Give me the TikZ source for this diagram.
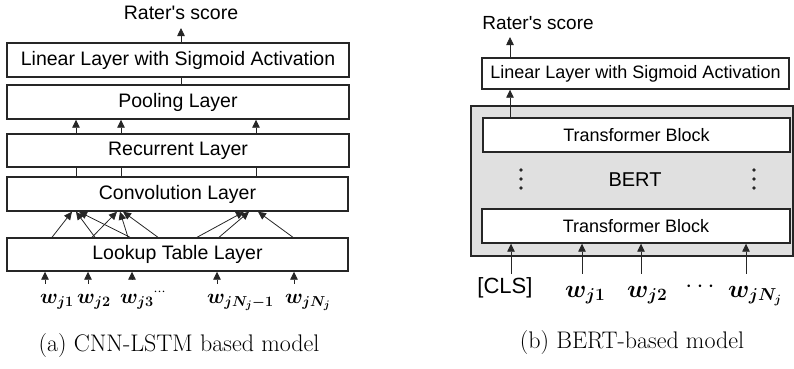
\documentclass[tikz,border=0pt]{standalone}
\usepackage{fontspec}
\usepackage{bm}
\usetikzlibrary{arrows.meta}
\newfontfamily\arialf{Liberation Sans}
\DeclareMathSizes{21}{21}{14}{11}
\DeclareMathSizes{24}{24}{16}{12}
\tikzset{
  box/.style={draw=black!85, line width=1.4pt, fill=white, rectangle, inner sep=0pt, font=\arialf\fontsize{19.5}{22}\selectfont},
  rbox/.style={box, font=\arialf\fontsize{18}{21}\selectfont},
  arr/.style={line width=0.8pt, draw=black!85, -{Triangle[length=8pt,width=7.5pt]}},
  ln/.style={line width=0.8pt, draw=black!85},
  sans/.style={inner sep=0pt, font=\arialf\fontsize{19.5}{22}\selectfont},
  wlab/.style={inner sep=0pt, anchor=base west, font=\fontsize{21}{24}\selectfont},
  wlabr/.style={inner sep=0pt, anchor=base west, font=\fontsize{24}{26}\selectfont},
  captext/.style={inner sep=0pt, font=\fontsize{24}{28}\selectfont},
}
\begin{document}
\begin{tikzpicture}[x=1pt,y=-1pt]
\useasboundingbox (0,0) rectangle (794,368);
% ---------- (a) CNN-LSTM ----------
\node[sans] (scoreA) at (181,13) {Rater's score};
\node[box, minimum width=342pt, minimum height=34pt] (lin) at (178,60) {Linear Layer with Sigmoid Activation};
\node[box, minimum width=342pt, minimum height=34pt] (pool) at (178,102) {Pooling Layer};
\node[box, minimum width=342pt, minimum height=33pt] (rec) at (178,150.5) {Recurrent Layer};
\node[box, minimum width=341pt, minimum height=34pt] (conv) at (177.5,194) {Convolution Layer};
\node[box, minimum width=341pt, minimum height=33pt] (look) at (177.5,254.5) {Lookup Table Layer};
\coordinate (scoreAin) at (181,28);
\draw[arr] (lin.north -| 181,0) -- (scoreAin);
\draw[ln] (lin.south -| 181,0) -- (pool.north -| 181,0);
\foreach \x in {76,121,256} {
  \draw[arr] (rec.north -| \x,0) -- (pool.south -| \x,0);
  \draw[ln] (rec.south -| \x,0) -- (conv.north -| \x,0);
}
% convolution filters
\foreach \s/\e in {52/72, 95/76, 130/79, 92/117, 128/120, 158/123, 197/244, 219/249, 293/258} {
  \draw[arr] (look.north -| \s,0) -- (conv.south -| \e,0);
}
% word inputs
\node[wlab] (a1) at (40,303) {$\bm{w}_{\bm{j1}}$};
\node[wlab] (a2) at (77,303) {$\bm{w}_{\bm{j2}}$};
\node[wlab] (a3) at (120,303) {$\bm{w}_{\bm{j3}}{}^{\cdots}$};
\node[wlab] (a4) at (207,303) {$\bm{w}_{\bm{jN_j-1}}$};
\node[wlab] (a5) at (285,303) {$\bm{w}_{\bm{jN_j}}$};
\foreach \n/\x in {a1/45, a2/88, a3/132, a4/217, a5/294} {
  \draw[arr] (\n.north -| \x,0) ++(0,-10) -- (look.south -| \x,0);
}
\node[captext] (capA) at (179,346) {(a) CNN-LSTM based model};
% ---------- (b) BERT ----------
\node[sans, font=\arialf\fontsize{19}{22}\selectfont] (scoreB) at (538,23) {Rater's score};
\node[rbox, minimum width=307pt, minimum height=31pt] (linB) at (635.5,73.5) {Linear Layer with Sigmoid Activation};
\node[draw=black!85, line width=1.4pt, fill=black!12, rectangle, inner sep=0pt, minimum width=322pt, minimum height=150pt] (bert) at (632,181) {};
\node[rbox, minimum width=307pt, minimum height=34pt] (tb1) at (636.5,135) {Transformer Block};
\node[rbox, minimum width=308pt, minimum height=34pt] (tb2) at (636,226) {Transformer Block};
\node[sans, font=\arialf\fontsize{20}{22}\selectfont] (bertlab) at (635,180) {BERT};
\foreach \x in {521,754} {
  \foreach \y in {170,179,188} {
    \fill[black!85] (\x,\y) circle (1.8pt);
  }
}
\coordinate (scoreBin) at (510,37);
\draw[arr] (linB.north -| 510,0) -- (scoreBin);
\draw[arr] (tb1.north -| 510,0) -- (linB.south -| 510,0);
\node[inner sep=0pt, anchor=base, font=\arialf\fontsize{22}{24}\selectfont] (cls) at (505,293) {[CLS]};
\node[wlabr] (b1) at (565,297) {$\bm{w}_{\bm{j1}}$};
\node[wlabr] (b2) at (627,297) {$\bm{w}_{\bm{j2}}$};
\node[inner sep=0pt, font=\fontsize{24}{26}\selectfont] (bdots) at (700,287) {$\cdots$};
\node[wlabr] (b3) at (728,297) {$\bm{w}_{\bm{jN_j}}$};
\coordinate (clsT) at (511,274);
\draw[arr] (clsT) -- (tb2.south -| 511,0);
\foreach \n/\x in {b1/582, b2/641, b3/746} {
  \draw[arr] (\n.north -| \x,0) ++(0,-12) -- (tb2.south -| \x,0);
}
\node[captext] (capB) at (632,343) {(b) BERT-based model};
\end{tikzpicture}
\end{document}
